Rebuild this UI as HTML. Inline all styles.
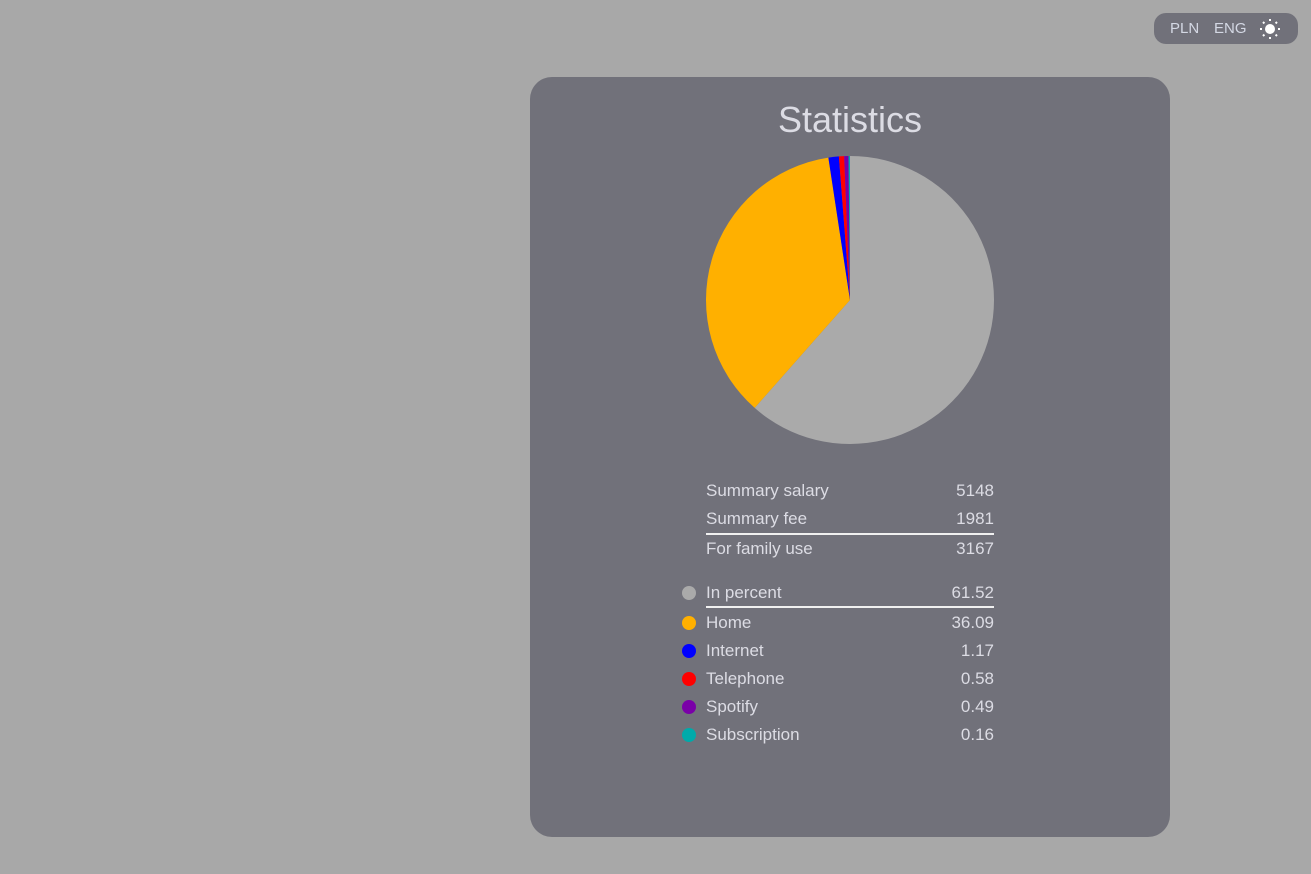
<!DOCTYPE html>
<html><head><meta charset="utf-8">
<style>
html,body{margin:0;padding:0}
body{width:1311px;height:874px;background:#a8a8a8;position:relative;overflow:hidden;font-family:"Liberation Sans",sans-serif;color:#dcdce4}
#toggle{position:absolute;left:1154px;top:13px;width:144px;height:31px;border-radius:12px;background:#71717a;font-size:15px;color:#d4d8e4}
#toggle span{position:absolute;top:7px}
#card{position:absolute;left:530px;top:77px;width:640px;height:760px;border-radius:22px;background:#71717a}
#title{position:absolute;left:0;width:640px;top:22px;text-align:center;font-size:36px;color:#dcdce4}
.row{position:absolute;left:176px;width:288px;height:24px;font-size:17px;line-height:24px}
.row .v{position:absolute;right:0;top:0}
.hr{position:absolute;left:176px;width:288px;height:2px;background:#f0f0f0}
.dot{position:absolute;left:-24px;top:5px;width:14px;height:14px;border-radius:50%}
</style></head><body>
<div id="toggle">
 <span style="left:16px">PLN</span>
 <span style="left:60px">ENG</span>
 <svg style="position:absolute;left:105px;top:5px" width="22" height="22" viewBox="0 0 22 22">
  <circle cx="11" cy="11" r="5" fill="#fff"/>
  <g stroke="#fff" stroke-width="2"><line x1="11" y1="1" x2="11" y2="3"/><line x1="11" y1="19" x2="11" y2="21"/><line x1="1" y1="11" x2="3" y2="11"/><line x1="19" y1="11" x2="21" y2="11"/><line x1="4" y1="4" x2="5.4" y2="5.4"/><line x1="16.6" y1="16.6" x2="18" y2="18"/><line x1="4" y1="18" x2="5.4" y2="16.6"/><line x1="16.6" y1="5.4" x2="18" y2="4"/></g>
 </svg>
</div>
<div id="card">
 <div id="title">Statistics</div>
 <svg id="pie" style="position:absolute;left:0;top:0" width="640" height="380"></svg>
 <div class="row" style="top:402px">Summary salary<span class="v">5148</span></div>
 <div class="row" style="top:430px">Summary fee<span class="v">1981</span></div>
 <div class="hr" style="top:456px"></div>
 <div class="row" style="top:460px">For family use<span class="v">3167</span></div>
 <div class="hr" style="top:529px"></div>
 <div id="legend"></div>
</div>
<script>
const categories=["In percent","Home","Internet","Telephone","Spotify","Subscription"];
const values=[61.52,36.09,1.17,0.58,0.49,0.16];
const colors=["#aaaaaa","#ffb000","#0000ff","#ff0000","#7a00a8","#00aaaa"];
const svg=document.getElementById('pie');
const cx=320,cy=223,r=144;
const total=values.reduce((a,b)=>a+b,0);
let a0=0;
values.forEach((v,i)=>{
 const a1=a0+v/total*2*Math.PI;
 const x0=cx+r*Math.sin(a0),y0=cy-r*Math.cos(a0),x1=cx+r*Math.sin(a1),y1=cy-r*Math.cos(a1);
 const p=document.createElementNS('http://www.w3.org/2000/svg','path');
 p.setAttribute('d',`M${cx},${cy}L${x0},${y0}A${r},${r} 0 ${a1-a0>Math.PI?1:0} 1 ${x1},${y1}Z`);
 p.setAttribute('fill',colors[i]);
 
 
 svg.appendChild(p);
 a0=a1;
});
const leg=document.getElementById('legend');
const tops=[504,534,562,590,618,646];
categories.forEach((c,i)=>{
 const d=document.createElement('div');
 d.className='row';d.style.top=tops[i]+'px';
 
 
 d.innerHTML=`<span class="dot" style="background:${colors[i]}"></span>${c}<span class="v">${values[i].toFixed(2)}</span>`;
 leg.appendChild(d);
});
</script>
</body></html>
